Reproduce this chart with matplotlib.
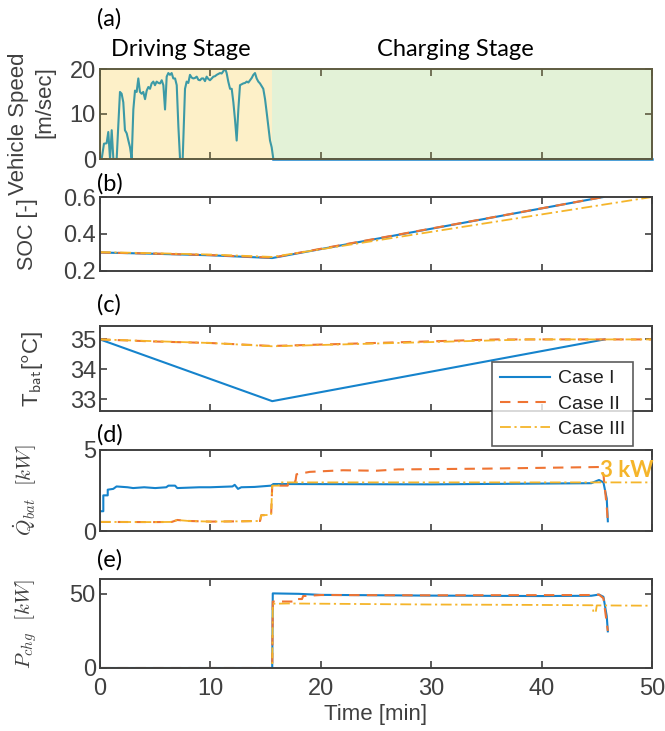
import matplotlib
matplotlib.use("Agg")
import matplotlib.pyplot as plt
import numpy as np

# ---------------- data ----------------
t_drive_end = 15.6
t_end = 50

speed_t = [0.0, 0.15, 0.36, 0.6, 0.75, 0.91, 1.06, 1.21, 1.51, 1.66, 1.81, 1.96, 2.11, 2.26,
           2.42, 2.57, 2.72, 2.87, 3.02, 3.17, 3.32, 3.47, 3.62, 3.77, 3.92, 4.08, 4.23, 4.38,
           4.53, 4.68, 4.83, 4.98, 5.13, 5.29, 5.44, 5.59, 5.74, 5.89, 6.04, 6.19, 6.34, 6.49,
           6.64, 6.8, 6.95, 7.1, 7.25, 7.49, 7.7, 7.85, 8.0, 8.15, 8.3, 8.45, 8.6, 8.76, 8.91,
           9.06, 9.21, 9.36, 9.51, 9.66, 9.81, 9.96, 10.12, 10.27, 10.42, 10.57, 10.72, 10.87,
           11.02, 11.17, 11.32, 11.47, 11.62, 11.78, 11.93, 12.08, 12.23, 12.38, 12.53, 12.68,
           12.83, 12.98, 13.14, 13.29, 13.44, 13.59, 13.74, 13.89, 14.04, 14.19, 14.34, 14.49,
           14.64, 14.79, 14.95, 15.1, 15.25, 15.4, 15.55, 15.7]
speed_v = [0.0, 0.0, 3.4, 3.5, 6.0, 0.0, 6.4, 0.0, 0.0, 7.6, 14.9, 14.5, 12.6, 6.4,
           5.7, 4.1, 2.6, 0.0, 11.0, 15.2, 14.9, 17.9, 14.9, 14.5, 14.9, 13.3, 15.2, 16.0,
           15.6, 16.8, 17.2, 16.4, 17.2, 16.9, 16.8, 17.5, 16.4, 11.0, 18.3, 19.1, 18.7, 19.1,
           17.9, 17.9, 16.4, 7.2, 0.0, 0.0, 15.6, 17.2, 16.9, 18.7, 18.1, 17.9, 18.0, 18.3, 17.6,
           17.5, 17.9, 17.9, 17.3, 18.3, 17.8, 17.5, 17.9, 18.3, 18.4, 18.7, 18.9, 19.1,
           19.0, 19.5, 20.2, 19.1, 17.2, 15.6, 15.6, 12.6, 8.7, 4.1, 11.0, 16.4,
           16.6, 16.8, 16.9, 17.2, 17.0, 17.5, 18.0, 18.7, 19.1, 17.9, 17.2, 16.8,
           16.2, 15.6, 13.3, 10.3, 7.2, 4.1, 2.6, 0.0]
speed_charge_t = [15.7, 50.0]
speed_charge_v = [0.0, 0.0]

soc_t = {"I": [0, 5, 10, 15.6, 45.6], "II": [0, 5, 10, 15.6, 45.6], "III": [0, 5, 10, 15.6, 50]}
soc_v = {"I": [0.300, 0.293, 0.285, 0.270, 0.600], "II": [0.300, 0.294, 0.286, 0.272, 0.600],
         "III": [0.302, 0.296, 0.289, 0.276, 0.600]}

tb_t = {"I": [0, 15.6, 45.7], "II": [0, 5, 10, 15.6, 36, 50], "III": [0, 5, 10, 15.6, 39, 50]}
tb_v = {"I": [35.0, 32.93, 35.0], "II": [35.0, 34.93, 34.88, 34.78, 35.0, 35.0],
        "III": [35.0, 34.94, 34.88, 34.77, 35.0, 35.0]}

q_t = {"I": [0, 0.3, 0.3, 0.7, 0.7, 1.2, 1.5, 2.5, 3, 4, 5, 6, 6.2, 6.8, 7.0, 9, 10, 12, 12.2,
             12.5, 12.8, 14, 15.5, 15.7, 30, 44.5, 45.2, 45.6, 45.9, 46.0],
       "II": [0, 5, 6.5, 7.0, 8, 10, 13, 14.5, 14.6, 15.5, 15.6, 17.0, 17.1, 17.7, 17.8, 19, 22,
              25, 27, 35, 45.3, 45.6, 45.9, 46.0],
       "III": [0, 5, 6.5, 7.0, 8, 10, 13, 14.5, 14.6, 15.5, 15.6, 16.2, 16.3, 50]}
q_v = {"I": [1.22, 1.22, 2.2, 2.2, 2.55, 2.6, 2.75, 2.7, 2.65, 2.7, 2.65, 2.7, 2.8, 2.8, 2.65,
             2.7, 2.7, 2.75, 2.85, 2.6, 2.7, 2.72, 2.8, 2.9, 2.88, 2.95, 3.15, 3.0, 2.0, 0.6],
       "II": [0.56, 0.55, 0.56, 0.68, 0.62, 0.58, 0.6, 0.62, 0.97, 1.0, 2.8, 2.8, 3.05, 3.05, 3.5,
              3.65, 3.75, 3.72, 3.8, 3.85, 3.95, 3.5, 1.5, 0.6],
       "III": [0.56, 0.55, 0.56, 0.68, 0.62, 0.58, 0.6, 0.62, 0.97, 1.0, 2.8, 2.8, 3.0, 3.0]}

p_t = {"I": [0, 15.6, 15.65, 18, 20, 30, 40, 44.5, 45.2, 45.6, 45.9, 46.0],
       "II": [0, 15.6, 15.65, 17.6, 17.7, 18.3, 18.4, 20, 30, 44.5, 45.2, 45.6, 46.0],
       "III": [0, 15.6, 15.65, 17, 30, 40, 44.6, 44.7, 44.9, 45.0, 50]}
p_v = {"I": [0, 0, 50.3, 50.0, 49.3, 48.8, 48.5, 48.7, 49.5, 48.0, 35.0, 24.7],
       "II": [0, 0, 44.8, 44.8, 46.5, 46.5, 48.5, 49.2, 49.0, 49.2, 49.5, 47.0, 25.0],
       "III": [0, 0, 43.3, 43.5, 42.8, 42.5, 42.3, 37.5, 37.5, 42.2, 42.0]}

cases = ["I", "II", "III"]
case_labels = ["Case I", "Case II", "Case III"]

# ---------------- style ----------------
plt.rcParams["font.family"] = ["Liberation Sans", "DejaVu Sans"]
plt.rcParams["mathtext.fontset"] = "cm"
ann_font = ["Lato", "DejaVu Sans"]

c_blue = "#1583cc"
c_orange = "#ef7433"
c_yellow = "#f5b52a"
c_teal = "#3c9aa6"
c_axis = "#404040"
styles = {"I": dict(color=c_blue, ls="-", lw=1.5),
          "II": dict(color=c_orange, ls=(0, (5, 3.5)), lw=1.5),
          "III": dict(color=c_yellow, ls=(0, (6, 2, 1.2, 2)), lw=1.3)}

fig = plt.figure(figsize=(6.65, 7.31), dpi=100)
W, H = 665, 731
L, R = 100, 652


def add_ax(top, bottom):
    return fig.add_axes([L / W, 1 - bottom / H, (R - L) / W, (bottom - top) / H])


axa = add_ax(69, 159)
axb = add_ax(197, 271)
axc = add_ax(326, 411)
axd = add_ax(450, 531)
axe = add_ax(579, 668)
axes = [axa, axb, axc, axd, axe]

TS = 17   # tick labels
LS = 15   # axis labels
for ax in axes:
    ax.set_xlim(0, 50)
    ax.set_xticks([0, 10, 20, 30, 40, 50])
    ax.tick_params(direction="in", length=5, width=1.2, top=True, right=True,
                   labelsize=TS, colors=c_axis, pad=3)
    ax.tick_params(axis="x", pad=7)
    for s in ax.spines.values():
        s.set_color(c_axis)
        s.set_linewidth(1.4)
    if ax is not axe:
        ax.set_xticklabels([])

# (a) speed
axa.axvspan(0, t_drive_end, color="#fdf0c8", zorder=0, lw=0)
axa.axvspan(t_drive_end, t_end, color="#e3f2d7", zorder=0, lw=0)
axa.plot(speed_t, speed_v, color=c_teal, lw=1.5, zorder=2)
axa.plot(speed_charge_t, speed_charge_v, color=c_blue, lw=1.8, zorder=2, clip_on=False)
axa.set_ylim(0, 20)
axa.set_yticks([0, 10, 20])
for s in axa.spines.values():
    s.set_color("#5e5b40")
axa.tick_params(colors="#5e5b40", labelcolor=c_axis)
fig.text(19 / W, 1 - 124 / H, "Vehicle Speed", rotation=90, fontsize=LS + 1, color=c_axis,
         ha="center", va="center")
fig.text(45 / W, 1 - 102 / H, "[m/sec]", rotation=90, fontsize=LS + 1, color=c_axis,
         ha="center", va="center")

# (b) SOC
for k in cases:
    axb.plot(soc_t[k], soc_v[k], **styles[k])
axb.set_ylim(0.2, 0.6)
axb.set_yticks([0.2, 0.4, 0.6])
axb.set_ylabel("SOC [-]", fontsize=LS + 0.5, color=c_axis)
axb.yaxis.set_label_coords(-0.112, 0.5)

# (c) T_bat
lines = []
for k, lab in zip(cases, case_labels):
    ln, = axc.plot(tb_t[k], tb_v[k], label=lab, **styles[k])
    lines.append(ln)
axc.set_ylim(32.6, 35.45)
axc.set_yticks([33, 34, 35])
axc.set_ylabel(r"T$_{\mathsf{bat}}$[$^{\mathsf{o}}$C]", fontsize=LS + 1, color=c_axis)
axc.yaxis.set_label_coords(-0.1, 0.5)

# (d) Q_bat
for k in cases:
    axd.plot(q_t[k], q_v[k], **styles[k])
axd.set_ylim(0, 5)
axd.set_yticks([0, 5])
axd.set_ylabel(r"$\dot{Q}_{bat}\ \ [kW]$", fontsize=LS, color=c_axis)
axd.yaxis.set_label_coords(-0.11, 0.5)
axd.text(45.3, 3.75, "3 kW", color=c_yellow, fontsize=16, fontweight="bold",
         family=ann_font, va="center", ha="left", clip_on=False)

# (e) P_chg
for k in cases:
    axe.plot(p_t[k], p_v[k], **styles[k])
axe.set_ylim(0, 60)
axe.set_yticks([0, 50])
axe.set_ylabel(r"$P_{chg}\ \ [kW]$", fontsize=LS, color=c_axis)
axe.yaxis.set_label_coords(-0.11, 0.5)
axe.set_xlabel("Time [min]", fontsize=16, color=c_axis, labelpad=3)

# panel labels / stage labels
for lab, y in [("(a)", 19), ("(b)", 184), ("(c)", 305), ("(d)", 435), ("(e)", 560)]:
    fig.text(97 / W, 1 - y / H, lab, fontsize=17, family=ann_font, va="center", ha="left")
fig.text(181 / W, 1 - 49 / H, "Driving Stage", fontsize=17, family=ann_font, va="center", ha="center")
fig.text(455 / W, 1 - 49 / H, "Charging Stage", fontsize=17, family=ann_font, va="center", ha="center")

leg = fig.legend(lines, case_labels, loc="upper right", bbox_to_anchor=(633 / W, 1 - 362 / H),
                 fontsize=14, frameon=True, fancybox=False, edgecolor="#333333",
                 handlelength=2.6, borderpad=0.4, labelspacing=0.4, handletextpad=0.4,
                 borderaxespad=0)
leg.get_frame().set_linewidth(1.2)
for txt in leg.get_texts():
    txt.set_color("#202020")

fig.savefig("out.png", dpi=100)
